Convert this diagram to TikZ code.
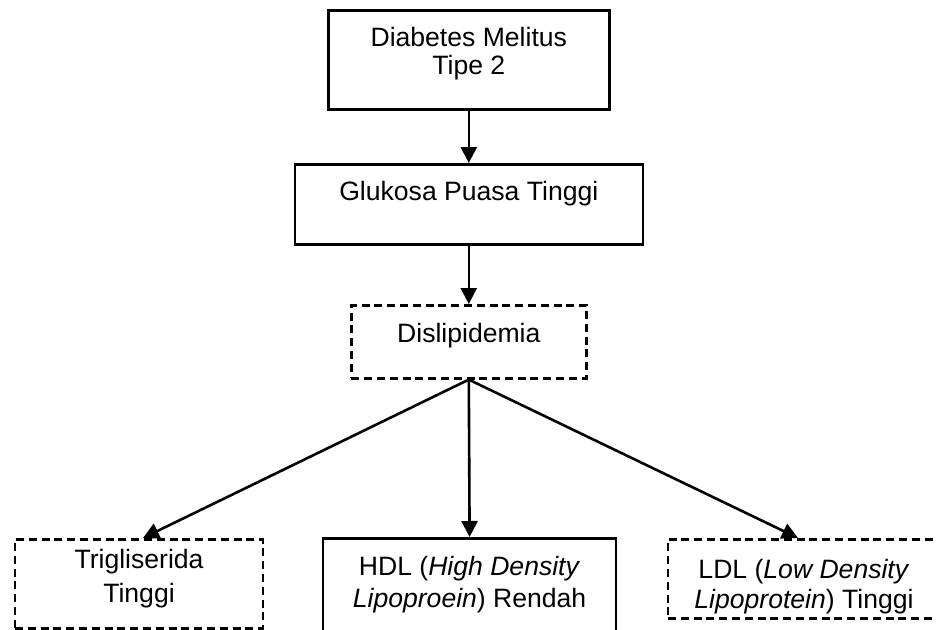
\documentclass[tikz,border=0pt]{standalone}
\usepackage{fontspec}
\setmainfont{Liberation Sans}
\usetikzlibrary{arrows.meta}

\tikzset{
  solidbox/.style={draw=black, line width=0.065cm, inner sep=0pt, align=center},
  dashbox/.style={solidbox, dash pattern=on 0.2cm off 0.12cm},
  flow/.style={draw=black, line width=0.065cm, -{Triangle[length=0.4cm,width=0.4cm]}}
}

\begin{document}
\begin{tikzpicture}[font=\fontsize{18.9}{21.5}\selectfont]
\useasboundingbox (0,0) rectangle (23.4,-15.725);
\clip (0,0) rectangle (23.4,-15.725);
\node[solidbox, anchor=north, minimum width=7.03cm, text height=1.6cm, text depth=0.875cm, font=\fontsize{18.9}{19.9}\selectfont] (dm) at (11.72,-0.225) {Diabetes Melitus\\Tipe 2};%top
\node[solidbox, anchor=north, minimum width=8.7cm, text height=0.9cm, text depth=1.1cm] (gpt) at (11.72,-4.075) {Glukosa Puasa Tinggi};%second
\node[dashbox, anchor=north, minimum width=5.875cm, text height=0.925cm, text depth=0.9cm] (dsl) at (11.72,-7.6) {Dislipidemia};%middle

\node[dashbox, anchor=north, minimum width=6.2cm, text height=1.575cm, text depth=0.65cm, font=\fontsize{18.9}{24}\selectfont] (trig) at (3.475,-13.45) {Trigliserida\\Tinggi};%left
\node[solidbox, anchor=north, minimum width=7.325cm, text height=1.725cm, text depth=2cm, font=\fontsize{18.9}{22.8}\selectfont] (hdl) at (11.74,-13.425) {HDL (\textit{High Density}\\\textit{Lipoproein}) Rendah};%centre
\node[dashbox, anchor=north, minimum width=6.8cm, text height=1.725cm, text depth=0.25cm, font=\fontsize{18.9}{21.3}\selectfont] (ldl) at (20.1,-13.45) {LDL (\textit{Low Density}\\\textit{Lipoprotein}) Tinggi};%right

\draw[flow] (dm.south) -- (gpt.north);
\draw[flow] (gpt.south) -- (dsl.north);
\draw[flow] (dsl.south) -- ([xshift=0.1cm]trig.north);
\draw[flow] (dsl.south) -- (hdl.north);
\draw[flow] (dsl.south) -- ([xshift=-0.15cm]ldl.north);
\end{tikzpicture}
\end{document}
